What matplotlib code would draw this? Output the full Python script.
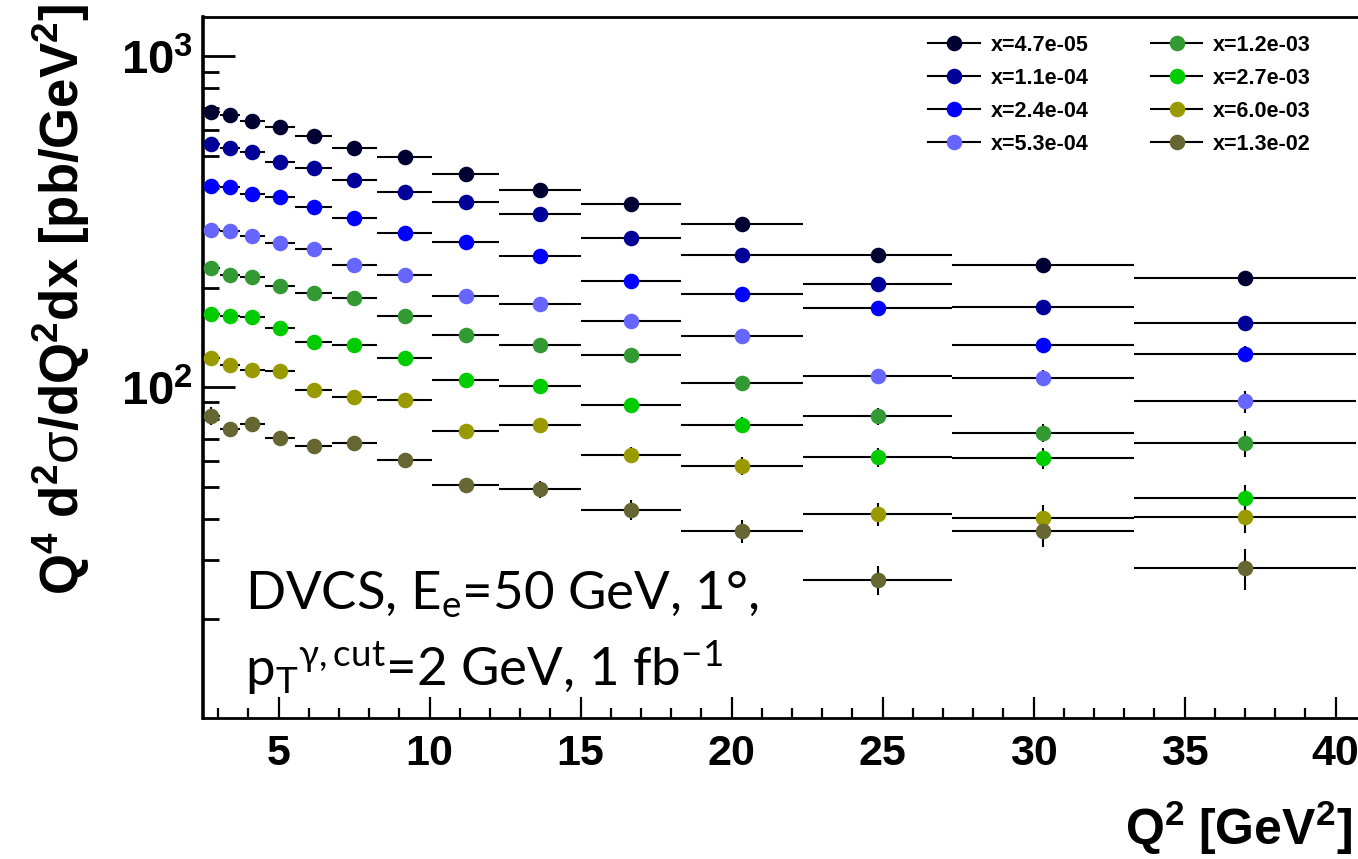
import numpy as np
import matplotlib
matplotlib.use('Agg')
import matplotlib.pyplot as plt
from matplotlib.lines import Line2D

plt.rcParams['mathtext.fontset'] = 'custom'
plt.rcParams['mathtext.rm'] = 'Lato'
plt.rcParams['mathtext.it'] = 'Lato:italic'
plt.rcParams['mathtext.bf'] = 'Liberation Sans:bold'
plt.rcParams['mathtext.sf'] = 'Liberation Sans'
plt.rcParams['mathtext.fallback'] = 'stixsans'

# ---------------- data ----------------
q2_edges = [2.5, 3.05, 3.72, 4.55, 5.55, 6.77, 8.26, 10.09, 12.31, 15.02,
            18.34, 22.38, 27.31, 33.34, 40.69]

x_labels = ['x=4.7e-05', 'x=1.1e-04', 'x=2.4e-04', 'x=5.3e-04',
            'x=1.2e-03', 'x=2.7e-03', 'x=6.0e-03', 'x=1.3e-02']
colors = ['#000033', '#000099', '#0000ff', '#6666ff',
          '#339933', '#00cc00', '#999900', '#666633']

xs_47e5 = [679, 663, 636, 611, 573, 530, 498, 440, 396, 359, 312, 251, 235, 214]
xs_11e4 = [545, 528, 516, 479, 461, 422, 389, 362, 333, 282, 252, 205, 175, 156]
xs_24e4 = [407, 403, 384, 375, 350, 325, 293, 274, 250, 209, 192, 174, 134, 126]
xs_53e4 = [298, 296, 286, 273, 261, 235, 219, 189, 179, 159, 143, 108, 107, 90.7]
xs_12e3 = [229, 218, 215, 203, 193, 186, 164, 144, 134, 125, 103, 81.7, 73.0, 67.7]
xs_27e3 = [167, 164, 163, 151, 137, 134, 123, 105, 101, 88.6, 77.1, 61.4, 61.2, 46.2]
xs_60e3 = [123, 117, 113, 112, 98.4, 93.3, 91.8, 74.0, 76.8, 62.6, 58.0, 41.3, 40.4, 40.7]
xs_13e2 = [82.1, 74.9, 77.5, 70.3, 66.6, 67.7, 60.3, 50.8, 49.3, 42.6, 36.9, 26.2, 36.9, 28.4]

# relative errors in percent
err_47e5 = [0.6, 0.6, 0.7, 0.7, 0.8, 0.9, 1.0, 1.2, 1.4, 1.6, 1.9, 2.3, 2.7, 3.2]
err_11e4 = [0.7, 0.7, 0.8, 0.8, 0.9, 1.0, 1.2, 1.4, 1.6, 1.9, 2.2, 2.7, 3.2, 3.8]
err_24e4 = [0.8, 0.8, 0.9, 1.0, 1.1, 1.2, 1.4, 1.7, 2.0, 2.3, 2.7, 3.3, 4.0, 5.5]
err_53e4 = [1.0, 1.0, 1.1, 1.2, 1.4, 1.6, 1.9, 2.2, 2.6, 3.0, 3.6, 4.4, 5.8, 7.5]
err_12e3 = [1.2, 1.3, 1.4, 1.5, 1.7, 2.0, 2.3, 2.7, 3.2, 3.8, 4.6, 6.0, 6.5, 9.0]
err_27e3 = [1.4, 1.5, 1.6, 1.8, 2.0, 2.3, 2.7, 3.2, 3.8, 4.5, 5.5, 6.5, 7.5, 10.0]
err_60e3 = [1.8, 1.9, 2.0, 2.2, 2.5, 2.9, 3.3, 3.9, 4.6, 5.5, 6.2, 8.0, 9.0, 11.0]
err_13e2 = [6.5, 2.5, 2.7, 3.0, 3.3, 3.7, 4.3, 5.0, 5.8, 7.0, 8.0, 10.0, 11.0, 14.0]

series = [xs_47e5, xs_11e4, xs_24e4, xs_53e4, xs_12e3, xs_27e3, xs_60e3, xs_13e2]
errors = [err_47e5, err_11e4, err_24e4, err_53e4, err_12e3, err_27e3, err_60e3, err_13e2]

y_major = [100, 1000]
y_major_labels = [r'$\mathbf{10^{2}}$', r'$\mathbf{10^{3}}$']
x_major = [5, 10, 15, 20, 25, 30, 35, 40]

# ---------------- figure ----------------
W, H = 1358, 859
fig = plt.figure(figsize=(W / 100, H / 100), dpi=100)
ax = fig.add_axes([203 / W, 1 - 718.3 / H, 1 - 203 / W, (718.3 - 16.5) / H])
ax.set_yscale('log')
ax.set_xlim(2.5, 40.74)
ax.set_ylim(10, 1320)

edges = np.array(q2_edges)
centers = 0.5 * (edges[:-1] + edges[1:])
halfw = 0.5 * (edges[1:] - edges[:-1])

handles = []
for vals, errs, c, lab in zip(series, errors, colors, x_labels):
    v = np.array(vals, dtype=float)
    e = v * np.array(errs) / 100.0
    ax.errorbar(centers, v, xerr=halfw, yerr=e, fmt='o', ms=10.2,
                mfc=c, mec=c, ecolor='black', elinewidth=1.5, capsize=0,
                zorder=3)
    handles.append(Line2D([], [], color='black', lw=1.5, marker='o',
                          ms=10.2, mfc=c, mec=c, label=lab))

# spines
ax.spines['right'].set_visible(False)
ax.spines['left'].set_linewidth(2.6)
ax.spines['top'].set_linewidth(2.0)
ax.spines['bottom'].set_linewidth(2.0)

# ticks
ax.set_yticks(y_major)
ax.set_yticklabels(y_major_labels)
ax.set_yticks([20, 30, 40, 50, 60, 70, 80, 90,
               200, 300, 400, 500, 600, 700, 800, 900], minor=True)
ax.yaxis.set_minor_formatter(matplotlib.ticker.NullFormatter())
ax.set_xticks(x_major)
ax.set_xticks(np.arange(3, 41, 1), minor=True)
ax.tick_params(axis='both', which='both', direction='in', top=False, right=False)
ax.tick_params(axis='y', which='major', length=23, width=2.0, pad=7, labelsize=34)
ax.tick_params(axis='y', which='minor', length=11.5, width=2.0)
ax.tick_params(axis='x', which='major', length=15, width=1.6, pad=11, labelsize=31)
ax.tick_params(axis='x', which='minor', length=7, width=1.6)
for t in ax.get_xticklabels():
    t.set_fontfamily('Liberation Sans')
    t.set_fontweight('bold')

# axis titles
fig.text(61 / W, 1 - 4 / H,
         r'$\mathbf{Q^{4}\ d^{2}}\mathsf{\sigma}\mathbf{/dQ^{2}dx\ [pb/GeV^{2}]}$',
         rotation=90, ha='center', va='top', fontsize=38)
fig.text(1352 / W, 1 - 845 / H, r'$\mathbf{Q^{2}\ [GeV^{2}]}$',
         ha='right', va='baseline', fontsize=36)

# legend
ax.legend(handles=handles, ncol=2, loc='upper left',
          bbox_to_anchor=(928 / W, 1 - 35 / H), bbox_transform=fig.transFigure,
          frameon=False, borderpad=0, borderaxespad=0,
          prop={'family': 'Liberation Sans', 'weight': 'bold', 'size': 15.5},
          handlelength=2.4, handletextpad=0.5, columnspacing=2.9,
          labelspacing=0.55)

# annotation
fig.text(245 / W, 1 - 610 / H, r'DVCS, E$_{\mathrm{e}}$=50 GeV, 1°,',
         fontfamily='Lato', fontsize=38, va='baseline', ha='left')
fig.text(245 / W, 1 - 686 / H,
         r'p$_{\mathrm{T}}$$^{\mathrm{\gamma,cut}}$=2 GeV, 1 fb$^{\mathrm{-1}}$',
         fontfamily='Lato', fontsize=38, va='baseline', ha='left')

fig.savefig('out.png', dpi=100)
